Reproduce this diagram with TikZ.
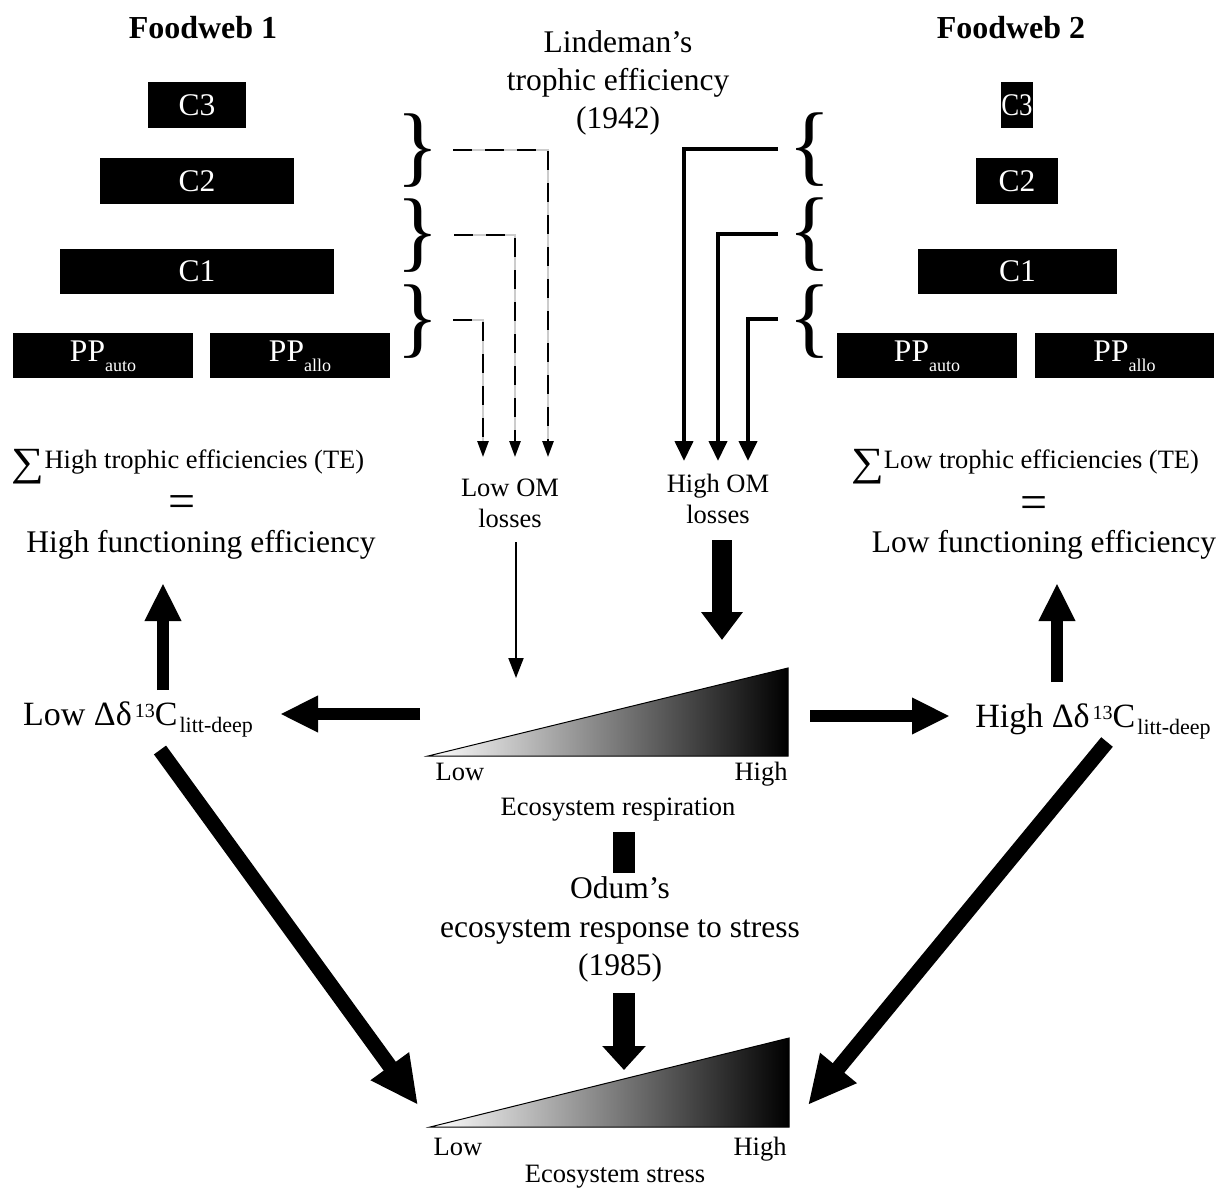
\documentclass[tikz,border=0pt]{standalone}
\usepackage{fontspec}
\setmainfont{Liberation Serif}
\usetikzlibrary{arrows.meta}
\newcommand\myfs[1]{\fontsize{#1}{#1}\selectfont}
\newcommand\mysum{\raisebox{-7pt}{\myfs{40}\scalebox{1.15}[1]{∑}}}
\begin{document}
\begin{tikzpicture}[x=1pt,y=-1pt,
  box/.style={fill=black,text=white,inner sep=0pt,font=\myfs{31.5}},
  pptext/.style={box,text depth=8pt,minimum height=45pt,minimum width=180pt},
  big/.style={font=\myfs{31.5},inner sep=0pt,anchor=base},
  mid/.style={font=\myfs{26.5},inner sep=0pt,anchor=base},
  hdr/.style={font=\myfs{32}\bfseries,inner sep=0pt,anchor=base},
  brc/.style={inner sep=0pt,font=\myfs{89}},
  dshline/.style={line width=2.5pt,dash pattern=on 19pt off 13pt,-{Triangle[width=11pt,length=16pt]}},
  dshbg/.style={line width=2pt,black!20,-{Triangle[width=11pt,length=16pt]}},
  solline/.style={line width=4pt,-{Triangle[width=18pt,length=20pt]}},
  thinarr/.style={line width=2pt,-{Triangle[width=15pt,length=20pt]}},
  fatarr/.style={line width=12pt,-{Triangle[width=34pt,length=38pt]}},
  diagarr/.style={line width=15pt,-{Triangle[width=44pt,length=48pt]}},
  wedge/.style={draw=black,line width=1pt},
]
\fill[white] (0,0) rectangle (1226,1189);
\useasboundingbox (0,0) rectangle (1226,1189);

% headers
\node[hdr] (fw1) at (203,38) {Foodweb 1};
\node[hdr] (fw2) at (1011,38) {Foodweb 2};
\node[big] (lin1) at (618,52) {Lindeman’s};
\node[big] (lin2) at (618,90) {trophic efficiency};
\node[big] (lin3) at (618,128) {(1942)};

% foodweb 1
\node[box,minimum width=98pt,minimum height=46pt] (c3l) at (197,105) {C3};
\node[box,minimum width=194pt,minimum height=46pt] (c2l) at (197,181) {C2};
\node[box,minimum width=274pt,minimum height=45pt] (c1l) at (197,271.5) {C1};
\node[pptext] (ppal) at (103,355.5) {PP\raisebox{-10pt}[0pt][0pt]{\myfs{18}auto}};
\node[pptext] (ppll) at (300,355.5) {PP\raisebox{-10pt}[0pt][0pt]{\myfs{18}allo}};

% foodweb 2
\node[box,minimum width=32pt,minimum height=46pt] (c3r) at (1017,105) {\scalebox{0.85}[1]{C3}};
\node[box,minimum width=82pt,minimum height=46pt] (c2r) at (1017,181) {C2};
\node[box,minimum width=199pt,minimum height=45pt] (c1r) at (1017.5,271.5) {C1};
\node[pptext] (ppar) at (927,355.5) {PP\raisebox{-10pt}[0pt][0pt]{\myfs{18}auto}};
\node[pptext,minimum width=179pt] (pplr) at (1124.5,355.5) {PP\raisebox{-10pt}[0pt][0pt]{\myfs{18}allo}};

% braces
\node[brc] (bl1) at (418,151) {\}};
\node[brc] (bl2) at (418,236) {\}};
\node[brc] (bl3) at (418,322) {\}};
\node[brc] (br1) at (810,150) {\{};
\node[brc] (br2) at (810,235) {\{};
\node[brc] (br3) at (810,322) {\{};

% dashed (low losses)
\coordinate (ls1) at (453,150); \coordinate (lk1) at (548,150); \coordinate (le1) at (548,457);
\coordinate (ls2) at (454,235); \coordinate (lk2) at (515,235); \coordinate (le2) at (515,457);
\coordinate (ls3) at (453,320); \coordinate (lk3) at (483,320); \coordinate (le3) at (483,457);
\foreach \i in {1,2,3}{
  \draw[dshbg] (ls\i) -- (lk\i) -- (le\i);
  \draw[dshline] (ls\i) -- (lk\i) -- (le\i);
}
% solid (high losses)
\coordinate (hs1) at (778,149); \coordinate (hk1) at (684,149); \coordinate (he1) at (684,461);
\coordinate (hs2) at (778,234); \coordinate (hk2) at (718,234); \coordinate (he2) at (718,461);
\coordinate (hs3) at (778,319); \coordinate (hk3) at (748,319); \coordinate (he3) at (748,461);
\foreach \i in {1,2,3}{
  \draw[solline] (hs\i) -- (hk\i) -- (he\i);
}

% OM losses texts
\node[mid] (lom1) at (510,496) {Low OM};
\node[mid] (lom2) at (510,527) {losses};
\node[mid] (hom1) at (718,492) {High OM};
\node[mid] (hom2) at (718,523) {losses};

% efficiency texts
\node[mid] (sumL) at (188,468) {\mysum High trophic efficiencies (TE)};
\node[inner sep=0pt,font=\myfs{48}] (eqL) at (182,507) {=};
\node[big] (feL) at (201,552) {High functioning efficiency};
\node[mid] (sumR) at (1025,468) {\mysum Low trophic efficiencies (TE)};
\node[inner sep=0pt,font=\myfs{48}] (eqR) at (1034,508) {=};
\node[big] (feR) at (1044,552) {Low functioning efficiency};

% delta texts
\node[inner sep=0pt,anchor=base,font=\myfs{34}] (dL) at (138,725)
  {Low Δδ\hspace{3pt}\raisebox{8pt}{\myfs{20}13}C\hspace{2pt}\raisebox{-7pt}{\myfs{22}litt-deep}};
\node[inner sep=0pt,anchor=base,font=\myfs{34}] (dR) at (1093,727)
  {High Δδ\hspace{3pt}\raisebox{8pt}{\myfs{20}13}C\hspace{2pt}\raisebox{-7pt}{\myfs{22}litt-deep}};

% respiration wedge
\coordinate (r1) at (428,756); \coordinate (r2) at (788,668); \coordinate (r3) at (788,756);
\shade[left color=white,right color=black] (r1) -- (r2) -- (r3) -- cycle;
\draw[wedge] (r1) -- (r2) -- (r3) -- cycle;
\node[mid] (rlow) at (460,780) {Low};
\node[mid] (rhigh) at (761,780) {High};
\node[mid] (rlab) at (618,815) {Ecosystem respiration};

% stress wedge
\coordinate (s1) at (430,1127); \coordinate (s2) at (789,1038); \coordinate (s3) at (789,1127);
\shade[left color=white,right color=black] (s1) -- (s2) -- (s3) -- cycle;
\draw[wedge] (s1) -- (s2) -- (s3) -- cycle;
\node[mid] (slow) at (458,1155) {Low};
\node[mid] (shigh) at (760,1155) {High};
\node[mid] (slab) at (615,1182) {Ecosystem stress};

% Odum
\node[big] (od1) at (620,898) {Odum’s};
\node[big] (od2) at (620,937) {ecosystem response to stress};
\node[big] (od3) at (620,975) {(1985)};

% arrows
\coordinate (ta) at (516,542); \coordinate (tb) at (516,678);
\draw[thinarr] (ta) -- (tb);
\coordinate (ha) at (722,540); \coordinate (hb) at (722,640);
\draw[line width=20pt,-{Triangle[width=40pt,length=28pt]}] (ha) -- (hb);

\coordinate (ula) at (163,690); \coordinate (ulb) at (163,583);
\draw[fatarr] (ula) -- (ulb);
\coordinate (ura) at (1057,682); \coordinate (urb) at (1057,583);
\draw[fatarr] (ura) -- (urb);

\coordinate (hla) at (420,714); \coordinate (hlb) at (280,714);
\draw[fatarr] (hla) -- (hlb);
\coordinate (hra) at (810,716); \coordinate (hrb) at (950,716);
\draw[fatarr] (hra) -- (hrb);

\coordinate (dla) at (160,750); \coordinate (dlb) at (418,1105);
\draw[diagarr] (dla) -- (dlb);
\coordinate (dra) at (1107,742); \coordinate (drb) at (808,1105);
\draw[diagarr] (dra) -- (drb);

\coordinate (ba) at (624,832); \coordinate (bb) at (624,873);
\draw[line width=22pt] (ba) -- (bb);
\coordinate (oa) at (624,993); \coordinate (ob) at (624,1070);
\draw[line width=22pt,-{Triangle[width=42pt,length=24pt]}] (oa) -- (ob);
\end{tikzpicture}
\end{document}
